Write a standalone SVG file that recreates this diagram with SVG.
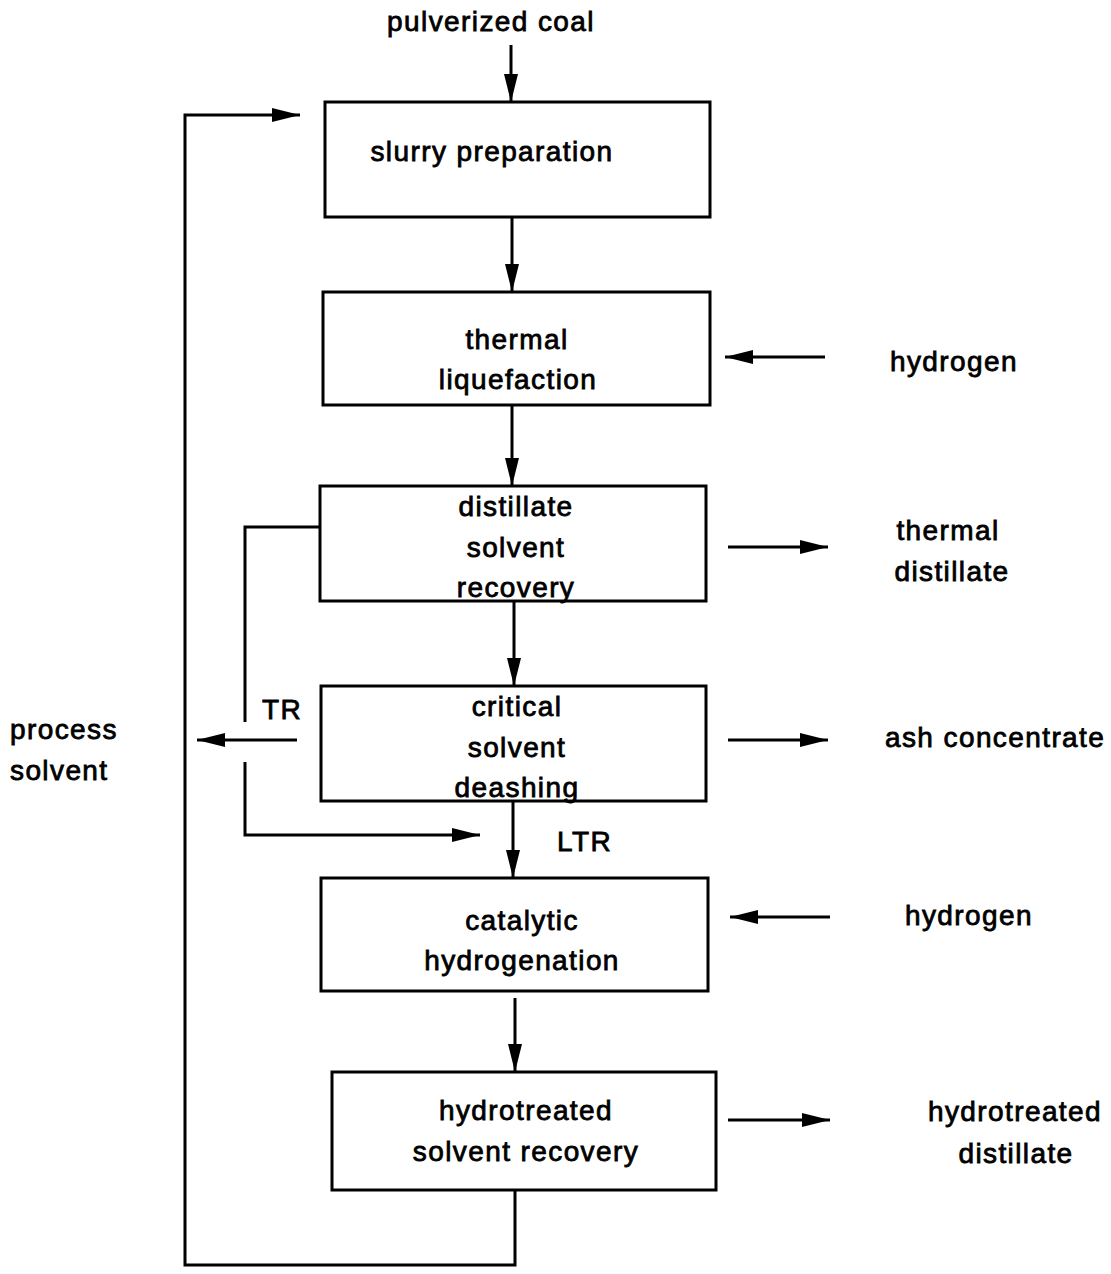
<svg xmlns="http://www.w3.org/2000/svg" width="1111" height="1274" viewBox="0 0 1111 1274">
<defs>
<marker id="ah" markerUnits="userSpaceOnUse" markerWidth="30" markerHeight="16" refX="28" refY="8" orient="auto">
<path d="M0,1 L28,8 L0,15 z" fill="#000"/>
</marker>
<style>
.box{fill:#fff;stroke:#000;stroke-width:3}
.ln{fill:none;stroke:#000;stroke-width:3}
.ar{fill:none;stroke:#000;stroke-width:3;marker-end:url(#ah)}
text{font-family:"Liberation Sans",Arial,sans-serif;font-size:28px;letter-spacing:1.4px;fill:#000;stroke:#000;stroke-width:0.8}
.c{text-anchor:middle}
</style>
</defs>
<rect width="1111" height="1274" fill="#fff"/>
<g id="connectors">
<line class="ar" x1="511" y1="45" x2="511" y2="102"/>
<line class="ar" x1="512" y1="217" x2="512" y2="292"/>
<line class="ar" x1="512" y1="405" x2="512" y2="486"/>
<line class="ar" x1="514" y1="601" x2="514" y2="686"/>
<line class="ar" x1="513" y1="801" x2="513" y2="878"/>
<line class="ar" x1="515" y1="998" x2="515" y2="1072"/>
<line class="ar" x1="825" y1="357" x2="725" y2="357"/>
<line class="ar" x1="728" y1="547" x2="828" y2="547"/>
<line class="ar" x1="728" y1="740" x2="828" y2="740"/>
<line class="ar" x1="830" y1="917" x2="730" y2="917"/>
<line class="ar" x1="728" y1="1120" x2="830" y2="1120"/>
<polyline class="ar" points="515,1190 515,1265 185,1265 185,115 300,115"/>
<polyline class="ln" points="320,527 245,527 245,722"/>
<line class="ar" x1="297" y1="740" x2="197" y2="740"/>
<polyline class="ar" points="245,762 245,835 480,835"/>
</g>
<g id="n-coal"><text class="c" x="491" y="31">pulverized coal</text></g>
<g id="n-slurry"><rect class="box" x="325" y="102" width="385" height="115"/><text class="c" x="492" y="161">slurry preparation</text></g>
<g id="n-thermal"><rect class="box" x="323" y="292" width="387" height="113"/><text class="c" x="517" y="349">thermal</text><text class="c" x="518" y="389">liquefaction</text></g>
<g id="n-h2a"><text x="890" y="371">hydrogen</text></g>
<g id="n-dsr"><rect class="box" x="320" y="486" width="386" height="115"/><text class="c" x="516" y="516">distillate</text><text class="c" x="516" y="557">solvent</text><text class="c" x="516" y="597">recovery</text></g>
<g id="n-td"><text class="c" x="948" y="540">thermal</text><text class="c" x="952" y="581">distillate</text></g>
<g id="n-csd"><rect class="box" x="321" y="686" width="385" height="115"/><text class="c" x="517" y="716">critical</text><text class="c" x="517" y="757">solvent</text><text class="c" x="517" y="797">deashing</text></g>
<g id="n-ash"><text x="885" y="747">ash concentrate</text></g>
<g id="n-ps"><text x="10" y="739">process</text><text x="10" y="780">solvent</text></g>
<g id="n-tr"><text x="262" y="719">TR</text></g>
<g id="n-ltr"><text x="557" y="851">LTR</text></g>
<g id="n-cat"><rect class="box" x="321" y="878" width="387" height="113"/><text class="c" x="522" y="930">catalytic</text><text class="c" x="522" y="970">hydrogenation</text></g>
<g id="n-h2b"><text x="905" y="925">hydrogen</text></g>
<g id="n-hsr"><rect class="box" x="332" y="1072" width="384" height="118"/><text class="c" x="526" y="1120">hydrotreated</text><text class="c" x="526" y="1161">solvent recovery</text></g>
<g id="n-hd"><text class="c" x="1015" y="1121">hydrotreated</text><text class="c" x="1016" y="1163">distillate</text></g>
</svg>
